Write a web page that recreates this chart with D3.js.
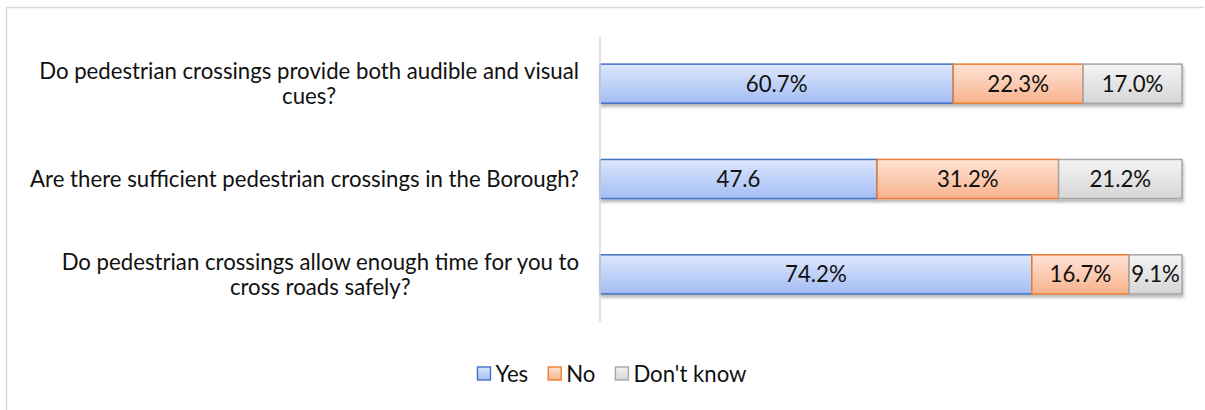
<!DOCTYPE html>
<html>
<head>
<meta charset="utf-8">
<script src="https://cdn.jsdelivr.net/npm/d3@7/dist/d3.min.js"></script>
<style>
  html, body { margin: 0; padding: 0; background: #fff; }
  svg { display: block; }
  text { font-family: Lato, "Open Sans", sans-serif; fill: #111; }
</style>
</head>
<body>
<svg id="chart" width="1205" height="410"></svg>
<script>
// Survey questions (top to bottom) and answer shares in percent
const questions = [
  ["Do pedestrian crossings provide both audible and visual", "cues?"],
  ["Are there sufficient pedestrian crossings in the Borough?"],
  ["Do pedestrian crossings allow enough time for you to", "cross roads safely?"]
];
const seriesNames = ["Yes", "No", "Don't know"];
const yesValues = [60.7, 47.6, 74.2];
const noValues = [22.3, 31.2, 16.7];
const dontKnowValues = [17.0, 21.2, 9.1];
// Label text shown on each segment
const yesLabels = ["60.7%", "47.6", "74.2%"];
const noLabels = ["22.3%", "31.2%", "16.7%"];
const dontKnowLabels = ["17.0%", "21.2%", "9.1%"];

const seriesValues = [yesValues, noValues, dontKnowValues];
const seriesLabels = [yesLabels, noLabels, dontKnowLabels];
const styles = [
  { top: "#dde7fc", bottom: "#a3bdf4", stroke: "#4472c4" },
  { top: "#ffe3d6", bottom: "#f8b28c", stroke: "#ed7d31" },
  { top: "#f4f4f4", bottom: "#d6d6d6", stroke: "#a5a5a5" }
];
const fontSize = "22.2px";

const svg = d3.select("#chart");
const defs = svg.append("defs");
styles.forEach((s, i) => {
  const g = defs.append("linearGradient").attr("id", "grad" + i)
    .attr("x1", 0).attr("y1", 0).attr("x2", 0).attr("y2", 1);
  g.append("stop").attr("offset", "0%").attr("stop-color", s.top);
  g.append("stop").attr("offset", "100%").attr("stop-color", s.bottom);
});
const shadow = defs.append("filter").attr("id", "shadow")
  .attr("x", "-5%").attr("y", "-30%").attr("width", "110%").attr("height", "170%");
shadow.append("feDropShadow").attr("dx", 1).attr("dy", 3).attr("stdDeviation", 1.6)
  .attr("flood-color", "#000").attr("flood-opacity", 0.28);

// chart frame
svg.append("path")
  .attr("d", "M6.5,410 V7.5 H1204")
  .attr("fill", "none").attr("stroke", "#d9d9d9").attr("stroke-width", 1.5);

const plotLeft = 600, plotRight = 1182, plotTop = 36, plotBottom = 322;

const x = d3.scaleLinear().domain([0, 100]).range([plotLeft, plotRight]);
const y = d3.scaleBand().domain(d3.range(questions.length))
  .range([plotTop, plotBottom]).paddingInner(0.59).paddingOuter(0.295);

// stacked rows
const rows = questions.map((q, i) => {
  let acc = 0;
  return seriesValues.map((vals, s) => {
    const seg = { row: i, s, x0: acc, x1: acc + vals[i], label: seriesLabels[s][i] };
    acc += vals[i];
    return seg;
  });
});

const barG = svg.append("g");
rows.forEach(row => {
  const g = barG.append("g").attr("filter", "url(#shadow)");
  g.selectAll("rect").data(row).join("rect")
    .attr("x", d => x(d.x0))
    .attr("y", d => y(d.row))
    .attr("width", d => x(d.x1) - x(d.x0))
    .attr("height", y.bandwidth())
    .attr("fill", d => `url(#grad${d.s})`)
    .attr("stroke", d => styles[d.s].stroke)
    .attr("stroke-width", 1.5);
});
rows.forEach(row => {
  barG.selectAll(null).data(row).join("text")
    .attr("x", d => (x(d.x0) + x(d.x1)) / 2)
    .attr("y", d => y(d.row) + y.bandwidth() / 2)
    .attr("dy", "0.36em")
    .attr("text-anchor", "middle")
    .style("font-size", fontSize)
    .text(d => d.label);
});

// category axis line
svg.append("line")
  .attr("x1", plotLeft).attr("x2", plotLeft)
  .attr("y1", plotTop).attr("y2", plotBottom)
  .attr("stroke", "#d9d9d9").attr("stroke-width", 1.5);

// category labels, wrapped lines centered on each other, block right-aligned
const labelRight = 579, lineH = 25.5;
questions.forEach((lines, i) => {
  const g = svg.append("g");
  const texts = lines.map(l => g.append("text").style("font-size", fontSize).text(l));
  const widest = d3.max(texts, t => t.node().getComputedTextLength());
  const cx = labelRight - widest / 2;
  const cy = y(i) + y.bandwidth() / 2;
  texts.forEach((t, k) => {
    t.attr("x", cx).attr("text-anchor", "middle")
      .attr("y", cy + (k - (lines.length - 1) / 2) * lineH)
      .attr("dy", "0.36em");
  });
});

// legend
const legend = svg.append("g");
let lx = 0;
seriesNames.forEach((name, s) => {
  const g = legend.append("g");
  g.append("rect").attr("x", 0).attr("y", -7).attr("width", 13).attr("height", 13)
    .attr("fill", `url(#grad${s})`).attr("stroke", styles[s].stroke).attr("stroke-width", 1.4);
  const t = g.append("text").attr("x", 18).attr("dy", "0.36em").style("font-size", fontSize).text(name);
  const w = 18 + t.node().getComputedTextLength();
  g.attr("transform", `translate(${lx},0)`);
  lx += w + 20;
});
const legendW = lx - 20;
legend.attr("transform", `translate(${612 - legendW / 2},374)`);
</script>
</body>
</html>
